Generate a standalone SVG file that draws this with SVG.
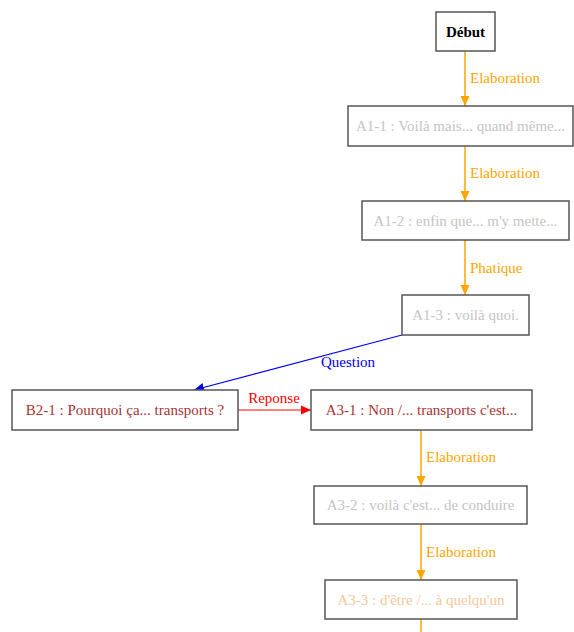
<svg xmlns="http://www.w3.org/2000/svg" width="574" height="632" viewBox="0 0 574 632">
<style>
.box{fill:#fff;stroke:#555;stroke-width:1.5}
text{font-family:"Liberation Serif","Times New Roman",serif;font-size:15px;text-anchor:middle;dominant-baseline:central}
.g{fill:#c4c4c4}
.r{fill:#a83232}
.o{fill:#f5c795}
.lo{fill:#ffa500;text-anchor:start}
.e{stroke:#ffa500;stroke-width:1.5;fill:none}
</style>
<defs>
<marker id="ao" viewBox="0 0 10 10" refX="10" refY="5" markerWidth="10" markerHeight="10" markerUnits="userSpaceOnUse" orient="auto"><path d="M0,0.5 L10,5 L0,9.5z" fill="#ffa500"/></marker>
<marker id="ab" viewBox="0 0 10 10" refX="10" refY="5" markerWidth="10" markerHeight="10" markerUnits="userSpaceOnUse" orient="auto"><path d="M0,0.5 L10,5 L0,9.5z" fill="#0000ff"/></marker>
<marker id="ar" viewBox="0 0 10 10" refX="10" refY="5" markerWidth="10" markerHeight="10" markerUnits="userSpaceOnUse" orient="auto"><path d="M0,0.5 L10,5 L0,9.5z" fill="#ff0000"/></marker>
</defs>
<rect width="574" height="632" fill="#fff"/>
<g id="edges">
<line class="e" x1="465" y1="51" x2="465" y2="106" marker-end="url(#ao)"/>
<text class="lo" x="470" y="78">Elaboration</text>
<line class="e" x1="465" y1="146" x2="465" y2="201" marker-end="url(#ao)"/>
<text class="lo" x="470" y="173">Elaboration</text>
<line class="e" x1="465" y1="240" x2="465" y2="295" marker-end="url(#ao)"/>
<text class="lo" x="470" y="268">Phatique</text>
<line x1="402" y1="335" x2="194" y2="390" stroke="#0000ff" stroke-width="1.2" marker-end="url(#ab)"/>
<text x="348" y="362" fill="#0000ff">Question</text>
<line x1="238" y1="410" x2="311" y2="410" stroke="#ff0000" stroke-width="1.2" marker-end="url(#ar)"/>
<text x="274" y="398" fill="#ff0000">Reponse</text>
<line class="e" x1="421" y1="430" x2="421" y2="486" marker-end="url(#ao)"/>
<text class="lo" x="426" y="457">Elaboration</text>
<line class="e" x1="421" y1="524" x2="421" y2="580" marker-end="url(#ao)"/>
<text class="lo" x="426" y="552">Elaboration</text>
<line class="e" x1="421" y1="619" x2="421" y2="632"/>
</g>
<g id="debut"><rect class="box" x="436" y="12" width="59" height="39"/><text x="465.5" y="31.5" font-weight="bold" fill="#000" font-size="14">Début</text></g>
<g id="a1-1"><rect class="box" x="348" y="106" width="225" height="40"/><text class="g" x="460.5" y="126">A1-1 : Voilà mais... quand même...</text></g>
<g id="a1-2"><rect class="box" x="362" y="201" width="207" height="39"/><text class="g" x="465.5" y="220.5">A1-2 : enfin que... m'y mette...</text></g>
<g id="a1-3"><rect class="box" x="402" y="295" width="127" height="40"/><text class="g" x="465.5" y="315">A1-3 : voilà quoi.</text></g>
<g id="b2-1"><rect class="box" x="12" y="390" width="226" height="40"/><text class="r" x="125" y="410">B2-1 : Pourquoi ça... transports ?</text></g>
<g id="a3-1"><rect class="box" x="311" y="390" width="221" height="40"/><text class="r" x="421.5" y="410">A3-1 : Non /... transports c'est...</text></g>
<g id="a3-2"><rect class="box" x="314" y="486" width="213" height="38"/><text class="g" x="420.5" y="505">A3-2 : voilà c'est... de conduire</text></g>
<g id="a3-3"><rect class="box" x="325" y="580" width="192" height="39"/><text class="o" x="421" y="599.5">A3-3 : d'être /... à quelqu'un</text></g>
</svg>
